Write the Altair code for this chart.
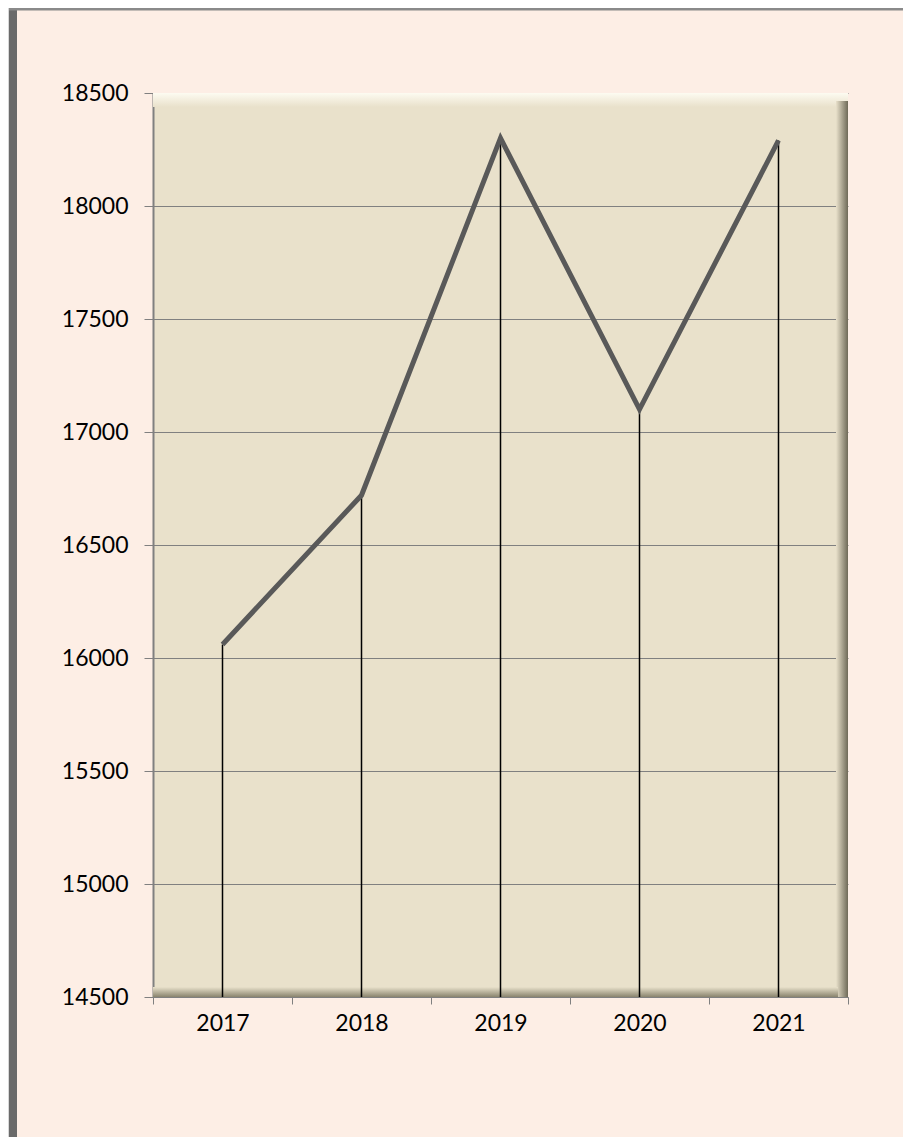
import altair as alt
import pandas as pd

years = ["2017", "2018", "2019", "2020", "2021"]
values = [16060, 16720, 18300, 17100, 18290]
y_ticks = [14500, 15000, 15500, 16000, 16500, 17000, 17500, 18000, 18500]

df = pd.DataFrame({"year": years, "value": values})
one = pd.DataFrame({"a": [0]})

W, H = 695, 904
FONT = "Lato"
PLOT_FILL = "#e9e1cb"

x_enc = alt.X(
    "year:N",
    scale=alt.Scale(type="band", paddingInner=0, paddingOuter=0),
    axis=alt.Axis(
        title=None, labelAngle=0, tickBand="extent", tickSize=7, labelPadding=8,
        labelFontSize=23, labelFont=FONT, labelColor="#000000",
        domainColor="#808080", tickColor="#808080", grid=False,
    ),
)
y_scale = alt.Scale(domain=[14500, 18500], nice=False, zero=False)
y_enc = alt.Y(
    "value:Q",
    scale=y_scale,
    axis=alt.Axis(
        title=None, values=y_ticks, format="d", tickSize=9, labelPadding=16,
        labelFontSize=23, labelFont=FONT, labelColor="#000000",
        domainColor="#808080", tickColor="#808080", gridColor="#808080",
        gridWidth=1, domainWidth=2,
    ),
)

# decorative bevel of the plot area
top_bevel = alt.Chart(one).mark_rect(
    color=alt.Gradient(
        gradient="linear",
        stops=[alt.GradientStop(color="#fdfbf1", offset=0),
               alt.GradientStop(color=PLOT_FILL, offset=1)],
        x1=0, x2=0, y1=0, y2=1,
    )
).encode(x=alt.value(0), x2=alt.value(W), y=alt.value(0), y2=alt.value(14))

right_bevel = alt.Chart(one).mark_rect(
    color=alt.Gradient(
        gradient="linear",
        stops=[alt.GradientStop(color=PLOT_FILL, offset=0),
               alt.GradientStop(color="#6f6a58", offset=1)],
        x1=0, x2=1, y1=0, y2=0,
    )
).encode(x=alt.value(W - 12), x2=alt.value(W), y=alt.value(8), y2=alt.value(H))

bottom_bevel = alt.Chart(one).mark_rect(
    color=alt.Gradient(
        gradient="linear",
        stops=[alt.GradientStop(color=PLOT_FILL, offset=0),
               alt.GradientStop(color="#8a846e", offset=1)],
        x1=0, x2=0, y1=0, y2=1,
    )
).encode(x=alt.value(0), x2=alt.value(W - 10), y=alt.value(H - 10), y2=alt.value(H))

# outer frame edges (decorative)
left_shadow = alt.Chart(one).mark_rule(color="#d8d8d8", strokeWidth=8).encode(
    x=alt.value(-148), y=alt.value(-85), y2=alt.value(H + 140))
left_frame = alt.Chart(one).mark_rule(color="#6a6a6a", strokeWidth=8).encode(
    x=alt.value(-140), y=alt.value(-85), y2=alt.value(H + 140))
top_frame = alt.Chart(one).mark_rule(color="#8a8a8a", strokeWidth=3).encode(
    x=alt.value(-144), x2=alt.value(W + 60), y=alt.value(-84))

drops = alt.Chart(df).mark_rule(color="#000000", strokeWidth=1.5).encode(
    x=x_enc, y=y_enc, y2=alt.datum(14500))

line = alt.Chart(df).mark_line(color="#595959", strokeWidth=5, strokeJoin="miter").encode(
    x=x_enc, y=y_enc)

chart = alt.layer(
    top_bevel, right_bevel, bottom_bevel, drops, line,
    left_shadow, left_frame, top_frame,
).properties(
    width=W, height=H,
    padding={"left": 145, "top": 85, "right": 55, "bottom": 140},
    autosize=alt.AutoSizeParams(type="none"),
).configure(
    background="#fdeee5",
).configure_view(
    fill=PLOT_FILL, stroke=None, clip=False,
).configure_axis(
    zindex=1,
)

chart.save("out.html", embed_options={"renderer": "svg", "actions": False})
